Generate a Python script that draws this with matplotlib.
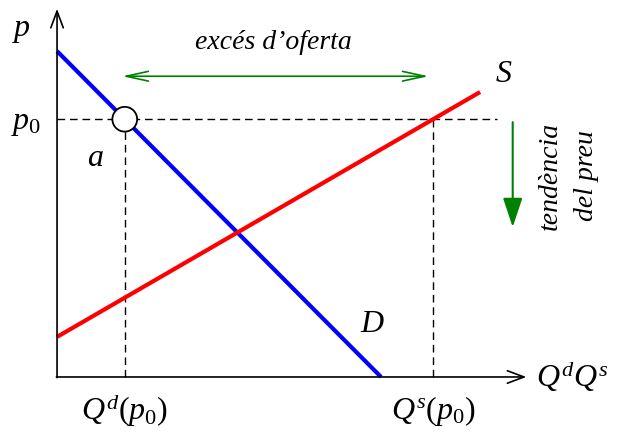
import numpy as np
import matplotlib.pyplot as plt
from matplotlib.patches import Circle, FancyArrowPatch

plt.rcParams['font.family'] = ['Liberation Serif', 'DejaVu Serif']
plt.rcParams['mathtext.fontset'] = 'custom'
plt.rcParams['mathtext.rm'] = 'Liberation Serif'
plt.rcParams['mathtext.it'] = 'Liberation Serif:italic'

# Model (arbitrary units).
demand_intercept = 10.0    # p where Qd = 0
demand_slope = -1.006
supply_intercept = 1.23
supply_slope = 0.579
p0 = 7.91
q_max_supply = 12.98

q_d0 = (p0 - demand_intercept) / demand_slope
q_s0 = (p0 - supply_intercept) / supply_slope
q_d_end = -demand_intercept / demand_slope

fig = plt.figure(figsize=(6.17, 4.35), dpi=100)
ax = fig.add_axes([0, 0, 1, 1])
ax.set_xlim(-1.75, 17.18)
ax.set_ylim(-1.75, 11.6)
ax.axis('off')

black_arrow = dict(arrowstyle='->,head_length=1.2,head_width=0.45', color='black', lw=1.2,
                   shrinkA=0, shrinkB=0)
ax.annotate('', xy=(0, 11.3), xytext=(0, -0.02), arrowprops=black_arrow)
ax.annotate('', xy=(14.4, 0), xytext=(-0.02, 0), arrowprops=black_arrow)

# Dashed guides.
dash = (0, (5.5, 3.5))
ax.plot([0, 13.5], [p0, p0], color='black', lw=1, ls=dash)
ax.plot([q_d0, q_d0], [0, p0], color='black', lw=1, ls=dash)
ax.plot([q_s0, q_s0], [0, p0], color='black', lw=1, ls=dash)

# Curves.
qd = np.array([0, q_d_end])
ax.plot(qd, demand_intercept + demand_slope * qd, color='#0000ff', lw=3, solid_capstyle='butt')
qs = np.array([0, q_max_supply])
ax.plot(qs, supply_intercept + supply_slope * qs, color='#ff0000', lw=3, solid_capstyle='butt')

ax.add_patch(Circle((q_d0, p0), 0.38, facecolor='white', edgecolor='black', lw=1.3, zorder=5))

# Excess supply arrow.
green = '#008000'
ax.annotate('', xy=(11.4, 9.23), xytext=(2.0, 9.23),
            arrowprops=dict(arrowstyle='<->,head_length=1.6,head_width=0.35', color=green, lw=1.2,
                            shrinkA=0, shrinkB=0))
ax.text(6.63, 10.3, "excés d’oferta", style='italic', fontsize=20, ha='center', va='center')

# Price tendency arrow.
ax.add_patch(FancyArrowPatch((13.98, 7.82), (13.98, 4.6),
                             arrowstyle='-|>,head_length=0.9,head_width=0.3',
                             color=green, lw=1.5, mutation_scale=20, shrinkA=0, shrinkB=0))
ax.text(15.7, 6.2, 'tendència\ndel preu', style='italic', fontsize=20, rotation=90,
        ha='center', va='center', linespacing=1.6)

# Labels.
fs = 23
ax.text(-1.1, 10.65, r'$p$', fontsize=fs, ha='center', va='center')
ax.text(-0.95, 7.8, r'$p_0$', fontsize=fs, ha='center', va='center')
ax.text(1.17, 6.75, r'$a$', fontsize=fs, ha='center', va='center')
ax.text(13.7, 9.3, r'$S$', fontsize=fs, ha='center', va='center')
ax.text(9.68, 1.65, r'$D$', fontsize=fs, ha='center', va='center')
ax.text(15.8, 0.05, r'$Q^d Q^s$', fontsize=fs, ha='center', va='center')
ax.text(q_d0, -1.0, r'$Q^d(p_0)$', fontsize=fs, ha='center', va='center')
ax.text(q_s0, -1.0, r'$Q^s(p_0)$', fontsize=fs, ha='center', va='center')

fig.savefig('out.png', dpi=100)
